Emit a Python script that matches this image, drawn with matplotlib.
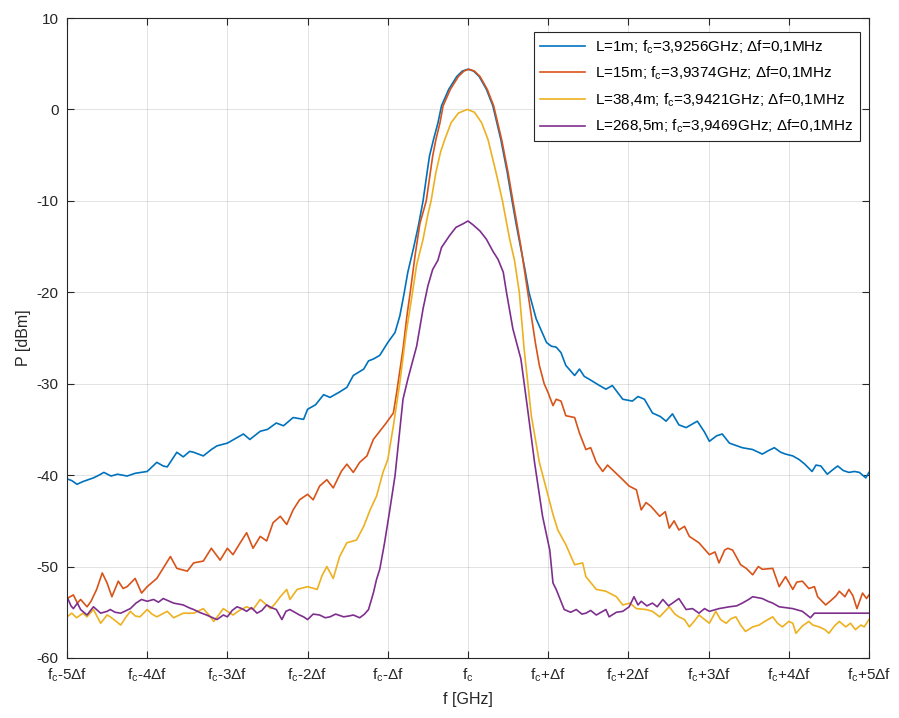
import matplotlib
matplotlib.use("Agg")
import matplotlib.pyplot as plt

plt.rcParams['font.family'] = ['Liberation Sans', 'DejaVu Sans']
plt.rcParams['mathtext.fontset'] = 'custom'
plt.rcParams['mathtext.rm'] = 'Liberation Sans'
plt.rcParams['mathtext.it'] = 'Liberation Sans'
plt.rcParams['axes.unicode_minus'] = False

# x in units of delta f around f_c, y in dBm
blue_x = [-5.0, -4.94, -4.875, -4.8, -4.67, -4.6, -4.54, -4.45, -4.37, -4.25, -4.15, -4.0, -3.88, -3.8, -3.75,
          -3.63, -3.55, -3.47, -3.42, -3.3, -3.2, -3.13, -3.0, -2.9, -2.8, -2.72, -2.59, -2.5, -2.39, -2.3,
          -2.18, -2.05, -2.0, -1.9, -1.8, -1.72, -1.6, -1.51, -1.43, -1.3, -1.24, -1.18, -1.1, -1.0, -0.91,
          -0.85, -0.8, -0.75, -0.68, -0.62, -0.56, -0.51, -0.48, -0.43, -0.375, -0.33, -0.24, -0.14, -0.07,
          0.0, 0.07, 0.14, 0.23, 0.31, 0.41, 0.49, 0.55, 0.6, 0.65, 0.71, 0.76, 0.85, 0.92, 0.98, 1.04,
          1.1, 1.16, 1.22, 1.33, 1.39, 1.45, 1.51, 1.64, 1.72, 1.8, 1.93, 2.05, 2.12, 2.2, 2.3, 2.4, 2.47,
          2.55, 2.63, 2.72, 2.86, 2.95, 3.01, 3.1, 3.17, 3.26, 3.42, 3.55, 3.67, 3.75, 3.82, 3.9, 3.96,
          4.05, 4.13, 4.2, 4.29, 4.34, 4.4, 4.48, 4.55, 4.61, 4.68, 4.75, 4.82, 4.88, 4.96, 5.0]
blue_y = [-40.4, -40.6, -41.0, -40.7, -40.3, -40.0, -39.7, -40.1, -39.9, -40.1, -39.8, -39.6, -38.6, -39.0, -39.1,
          -37.5, -38.0, -37.4, -37.5, -37.9, -37.2, -36.8, -36.5, -36.0, -35.5, -36.1, -35.2, -35.0, -34.3, -34.6,
          -33.7, -33.9, -32.8, -32.3, -31.2, -31.5, -30.9, -30.4, -29.1, -28.4, -27.5, -27.3, -26.9, -25.5, -24.4,
          -22.6, -20.3, -17.8, -15.2, -12.8, -10.0, -6.9, -5.1, -3.3, -1.5, 0.4, 2.2, 3.6, 4.2,
          4.4, 4.2, 3.6, 2.2, 0.4, -3.3, -6.9, -10.0, -12.5, -14.8, -17.5, -20.0, -22.9, -24.3, -25.5, -25.9,
          -26.0, -26.6, -28.0, -29.1, -28.4, -29.2, -29.5, -30.2, -30.6, -30.2, -31.7, -31.9, -31.4, -31.7, -33.2, -33.6, -34.1,
          -33.3, -34.5, -34.8, -34.1, -35.3, -36.3, -35.7, -35.5, -36.5, -37.0, -37.2, -37.7, -37.3, -37.0, -37.5, -37.7,
          -37.9, -38.3, -38.8, -39.6, -38.9, -39.0, -39.9, -39.4, -39.0, -39.5, -39.7, -39.6, -39.7, -40.3, -39.7]

orange_x = [-5.0, -4.92, -4.87, -4.83, -4.75, -4.7, -4.63, -4.56, -4.5, -4.44, -4.36, -4.3, -4.25, -4.15, -4.07,
            -4.0, -3.88, -3.71, -3.63, -3.5, -3.42, -3.3, -3.2, -3.09, -3.0, -2.93, -2.84, -2.76, -2.68, -2.59,
            -2.51, -2.43, -2.34, -2.26, -2.18, -2.1, -2.0, -1.93, -1.85, -1.76, -1.68, -1.58, -1.51, -1.43, -1.35,
            -1.26, -1.18, -1.1, -1.02, -0.93, -0.89, -0.81, -0.76, -0.72, -0.66, -0.6, -0.52, -0.47, -0.44, -0.4,
            -0.35, -0.31, -0.22, -0.12, -0.05, 0.01, 0.08, 0.15, 0.24, 0.32, 0.42, 0.5, 0.56, 0.61, 0.66,
            0.72, 0.79, 0.84, 0.89, 0.95, 1.0, 1.06, 1.1, 1.16, 1.22, 1.33, 1.39, 1.47, 1.53, 1.6,
            1.68, 1.74, 1.8, 1.93, 2.01, 2.1, 2.16, 2.22, 2.28, 2.39, 2.46, 2.51, 2.57, 2.63, 2.7,
            2.76, 2.88, 3.01, 3.08, 3.13, 3.2, 3.24, 3.3, 3.4, 3.47, 3.55, 3.62, 3.67, 3.8, 3.88,
            3.96, 4.05, 4.1, 4.17, 4.25, 4.32, 4.36, 4.46, 4.54, 4.59, 4.63, 4.7, 4.75, 4.8, 4.85,
            4.92, 4.97, 5.0]
orange_y = [-53.5, -53.1, -54.0, -53.6, -54.4, -53.8, -52.5, -50.7, -51.8, -53.3, -51.6, -52.4, -52.2, -51.3, -52.9,
            -52.2, -51.3, -48.9, -50.2, -50.5, -49.6, -49.4, -48.0, -49.3, -48.0, -48.7, -47.4, -46.3, -48.0, -46.7,
            -47.2, -45.2, -44.5, -45.4, -43.8, -42.7, -42.1, -42.7, -41.2, -40.5, -41.4, -39.6, -38.8, -39.7, -38.6,
            -37.9, -36.1, -35.2, -34.3, -33.2, -31.0, -26.2, -22.5, -20.0, -16.0, -12.5, -10.0, -6.9, -5.1, -3.3,
            -1.5, 0.4, 2.2, 3.6, 4.2, 4.4, 4.2, 3.6, 2.2, 0.4, -3.3, -6.9, -10.0, -12.5, -15.0,
            -18.5, -22.6, -25.5, -28.0, -30.0, -31.0, -32.4, -31.7, -31.9, -33.5, -33.7, -35.4, -37.2, -37.0, -38.6,
            -39.6, -38.9, -39.4, -40.5, -41.2, -41.6, -43.8, -43.0, -43.4, -44.5, -44.0, -45.8, -45.0, -46.0, -45.6,
            -46.7, -47.4, -48.7, -48.4, -49.6, -48.2, -48.0, -48.2, -49.8, -50.2, -50.9, -50.0, -50.3, -50.2, -52.2,
            -51.1, -52.5, -51.7, -51.6, -52.4, -52.2, -53.3, -54.2, -53.6, -53.2, -52.7, -53.3, -52.5, -53.2, -54.6,
            -52.9, -53.5, -53.1]

yellow_x = [-5.0, -4.94, -4.88, -4.8, -4.75, -4.67, -4.58, -4.5, -4.46, -4.4, -4.33, -4.27, -4.21, -4.15, -4.09,
            -4.0, -3.94, -3.88, -3.75, -3.67, -3.55, -3.42, -3.3, -3.23, -3.17, -3.1, -3.05, -2.93, -2.85, -2.76,
            -2.68, -2.59, -2.46, -2.4, -2.34, -2.26, -2.22, -2.13, -2.0, -1.88, -1.82, -1.76, -1.68, -1.6, -1.51,
            -1.39, -1.3, -1.22, -1.14, -1.06, -1.0, -0.93, -0.85, -0.77, -0.7, -0.64, -0.56, -0.5, -0.46, -0.4,
            -0.34, -0.29, -0.21, -0.12, -0.01, 0.08, 0.17, 0.25, 0.35, 0.43, 0.52, 0.58, 0.64, 0.7, 0.79,
            0.89, 1.0, 1.06, 1.12, 1.22, 1.33, 1.43, 1.47, 1.6, 1.72, 1.85, 1.93, 2.02, 2.1, 2.22,
            2.3, 2.39, 2.51, 2.58, 2.63, 2.7, 2.76, 2.82, 2.88, 3.01, 3.09, 3.15, 3.22, 3.28, 3.34,
            3.4, 3.46, 3.55, 3.63, 3.7, 3.8, 3.86, 3.92, 4.0, 4.05, 4.09, 4.17, 4.25, 4.3, 4.38,
            4.45, 4.5, 4.57, 4.63, 4.71, 4.77, 4.83, 4.9, 4.94, 5.0]
yellow_y = [-55.5, -55.1, -55.6, -55.1, -55.5, -54.7, -56.2, -55.3, -55.5, -55.9, -56.4, -55.6, -54.9, -55.4, -55.5,
            -54.7, -55.2, -55.5, -54.9, -55.6, -55.1, -55.1, -54.6, -55.3, -56.0, -55.2, -54.6, -55.3, -54.8, -54.4,
            -54.7, -53.6, -54.6, -54.0, -53.3, -52.5, -53.6, -52.5, -52.2, -52.5, -51.0, -50.0, -51.3, -48.9, -47.4,
            -47.1, -45.6, -43.8, -42.3, -39.7, -38.3, -34.6, -29.9, -24.4, -20.5, -17.0, -14.2, -11.5, -10.0, -6.9,
            -4.6, -3.3, -1.45, -0.4, 0.0, -0.3, -1.45, -3.3, -6.9, -10.0, -14.2, -16.5, -20.0, -26.2, -33.5,
            -38.6, -42.3, -44.3, -46.0, -47.6, -49.8, -49.6, -51.1, -52.5, -52.7, -53.3, -54.2, -54.0, -54.6, -54.7,
            -54.9, -55.5, -54.4, -55.2, -55.5, -55.8, -56.6, -56.0, -55.3, -56.2, -54.9, -55.8, -56.2, -55.7, -55.5,
            -56.4, -57.1, -56.6, -56.4, -56.0, -55.5, -56.2, -56.6, -56.0, -56.2, -57.3, -56.5, -56.0, -56.4, -56.6,
            -56.9, -57.3, -56.5, -56.0, -56.6, -56.2, -56.9, -56.4, -56.6, -55.8]

purple_x = [-5.0, -4.95, -4.92, -4.87, -4.83, -4.75, -4.67, -4.58, -4.5, -4.46, -4.4, -4.33, -4.21, -4.14, -4.07,
            -4.0, -3.92, -3.86, -3.8, -3.67, -3.55, -3.48, -3.42, -3.35, -3.26, -3.13, -3.05, -3.0, -2.94, -2.88,
            -2.82, -2.76, -2.7, -2.63, -2.57, -2.51, -2.45, -2.39, -2.32, -2.27, -2.22, -2.1, -2.05, -2.0, -1.93,
            -1.85, -1.78, -1.72, -1.65, -1.55, -1.48, -1.43, -1.35, -1.29, -1.24, -1.18, -1.14, -1.1, -1.04, -0.98,
            -0.91, -0.85, -0.81, -0.75, -0.64, -0.56, -0.5, -0.44, -0.375, -0.33, -0.23, -0.15, -0.06, 0.0, 0.06,
            0.15, 0.23, 0.31, 0.375, 0.44, 0.48, 0.56, 0.66, 0.75, 0.83, 0.93, 1.02, 1.06, 1.1, 1.2,
            1.28, 1.35, 1.42, 1.47, 1.53, 1.6, 1.72, 1.76, 1.85, 1.93, 2.01, 2.07, 2.12, 2.16, 2.23,
            2.3, 2.36, 2.43, 2.5, 2.55, 2.63, 2.72, 2.8, 2.88, 2.95, 3.01, 3.13, 3.26, 3.35, 3.42,
            3.5, 3.55, 3.67, 3.74, 3.8, 3.88, 4.05, 4.17, 4.27, 4.32, 5.0]
purple_y = [-53.3, -54.3, -54.6, -54.0, -54.7, -55.3, -54.4, -55.1, -54.9, -54.7, -55.0, -55.1, -54.6, -54.0, -53.6,
            -53.8, -53.6, -53.9, -53.5, -54.0, -54.2, -54.5, -54.7, -55.0, -55.3, -55.8, -55.3, -55.5, -54.8, -54.4,
            -54.6, -54.9, -54.5, -55.1, -54.8, -54.2, -54.5, -54.7, -55.8, -54.9, -54.7, -55.3, -55.5, -55.8, -55.2,
            -55.3, -55.6, -55.5, -55.2, -55.5, -55.4, -55.3, -55.6, -55.2, -54.7, -52.9, -51.4, -50.3, -47.4, -44.1,
            -40.1, -35.0, -31.7, -29.5, -25.9, -21.8, -19.3, -17.5, -16.5, -15.1, -13.8, -12.9, -12.5, -12.2, -12.6,
            -13.3, -14.2, -15.5, -16.4, -17.8, -20.0, -24.0, -27.3, -33.2, -38.6, -44.5, -48.2, -51.8, -52.5, -54.7,
            -55.0, -54.7, -55.2, -55.1, -54.8, -55.3, -54.7, -55.5, -55.0, -54.9, -54.4, -53.3, -54.2, -53.8, -54.3,
            -54.0, -54.4, -53.6, -54.3, -54.0, -53.5, -54.7, -54.6, -55.1, -54.6, -54.9, -54.6, -54.4, -54.3, -54.0,
            -53.6, -53.3, -53.5, -53.8, -54.0, -54.4, -54.6, -54.9, -55.6, -55.1, -55.1]

labels = [r'L=1m; f$_\mathrm{c}$=3,9256GHz; $\Delta$f=0,1MHz',
          r'L=15m; f$_\mathrm{c}$=3,9374GHz; $\Delta$f=0,1MHz',
          r'L=38,4m; f$_\mathrm{c}$=3,9421GHz; $\Delta$f=0,1MHz',
          r'L=268,5m; f$_\mathrm{c}$=3,9469GHz; $\Delta$f=0,1MHz']
colors = ['#0072BD', '#D95319', '#EDB120', '#7E2F8E']

xtick_pos = [-5, -4, -3, -2, -1, 0, 1, 2, 3, 4, 5]
xtick_labels = [r'f$_\mathrm{c}$-5$\Delta$f', r'f$_\mathrm{c}$-4$\Delta$f', r'f$_\mathrm{c}$-3$\Delta$f',
                r'f$_\mathrm{c}$-2$\Delta$f', r'f$_\mathrm{c}$-$\Delta$f', r'f$_\mathrm{c}$',
                r'f$_\mathrm{c}$+$\Delta$f', r'f$_\mathrm{c}$+2$\Delta$f', r'f$_\mathrm{c}$+3$\Delta$f',
                r'f$_\mathrm{c}$+4$\Delta$f', r'f$_\mathrm{c}$+5$\Delta$f']

fig = plt.figure(figsize=(8.99, 7.18), dpi=100)
ax = fig.add_axes([0.0745, 0.0836, 0.8921, 0.8913])

for xs, ys, c, lab in zip([blue_x, orange_x, yellow_x, purple_x],
                          [blue_y, orange_y, yellow_y, purple_y], colors, labels):
    ax.plot(xs, ys, color=c, linewidth=1.2, label=lab)

ax.set_xlim(-5, 5)
ax.set_ylim(-60, 10)
ax.set_yticks(range(-60, 11, 10))
ax.set_xticks(xtick_pos)
ax.set_xticklabels(xtick_labels)
ax.grid(True, color='#262626', alpha=0.15, linewidth=0.6)
ax.tick_params(direction='in', top=True, right=True, length=5, width=0.8,
               labelsize=11, colors='#262626', pad=6)
for s in ax.spines.values():
    s.set_color('#262626')
    s.set_linewidth(0.8)

ax.set_xlabel('f [GHz]', fontsize=11.5, color='#262626', labelpad=6)
ax.set_ylabel('P [dBm]', fontsize=11.5, color='#262626', labelpad=4)

leg = ax.legend(loc='upper right', bbox_to_anchor=(0.9888, 0.978), fontsize=11,
                fancybox=False, framealpha=1, edgecolor='#262626', handlelength=2.95,
                handletextpad=0.65, borderpad=0.4, labelspacing=0.6, borderaxespad=0)
leg.get_frame().set_linewidth(0.8)

fig.savefig('out.png', dpi=100)
